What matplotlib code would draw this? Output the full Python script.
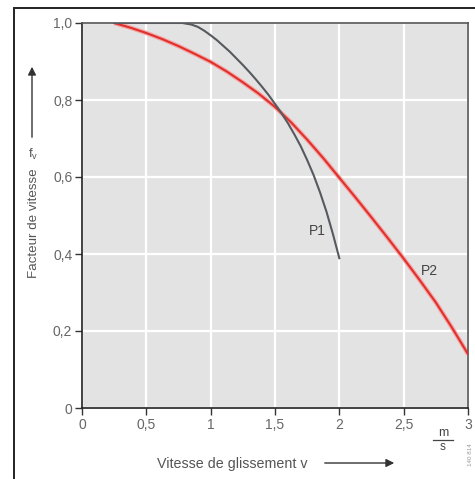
import matplotlib
matplotlib.use("Agg")
import matplotlib.pyplot as plt
from matplotlib.patches import Rectangle, FancyArrowPatch

plt.rcParams["font.family"] = ["Liberation Sans", "DejaVu Sans"]

# --- data ---
p1_v = [0.25, 0.5, 0.78, 0.85, 0.9, 0.95, 1.0, 1.05, 1.1, 1.15, 1.2, 1.25, 1.3, 1.35, 1.4,
        1.45, 1.5, 1.55, 1.6, 1.65, 1.7, 1.75, 1.8, 1.85, 1.9, 1.95, 2.0]
p1_f = [1.0, 1.0, 1.0, 0.996, 0.99, 0.98, 0.968, 0.955, 0.94, 0.925, 0.908, 0.891, 0.873,
        0.854, 0.834, 0.813, 0.79, 0.766, 0.74, 0.711, 0.68, 0.644, 0.605, 0.56, 0.51, 0.452, 0.389]
p2_v = [0.25, 0.375, 0.5, 0.625, 0.75, 0.875, 1.0, 1.125, 1.25, 1.375, 1.5, 1.625, 1.75,
        1.875, 2.0, 2.125, 2.25, 2.375, 2.5, 2.625, 2.75, 2.875, 3.0]
p2_f = [1.0, 0.988, 0.974, 0.958, 0.94, 0.92, 0.899, 0.874, 0.846, 0.816, 0.782, 0.742, 0.697,
        0.649, 0.598, 0.547, 0.495, 0.442, 0.388, 0.332, 0.274, 0.209, 0.14]

x_ticks = [0, 0.5, 1, 1.5, 2, 2.5, 3]
x_labels = ["0", "0,5", "1", "1,5", "2", "2,5", "3"]
y_ticks = [0, 0.2, 0.4, 0.6, 0.8, 1.0]
y_labels = ["0", "0,2", "0,4", "0,6", "0,8", "1,0"]

W, H = 475, 479
fig = plt.figure(figsize=(W / 100, H / 100), dpi=100)
fig.patch.set_facecolor("white")

# outer frame (runs off the right and bottom edges)
fig.patches.append(Rectangle((14 / W, -0.1), 1.2, 1.1 - 8 / H, transform=fig.transFigure,
                             fill=False, edgecolor="#222222", linewidth=1.4))

ax = fig.add_axes([82 / W, 1 - 408 / H, (468 - 82) / W, (408 - 23) / H])
ax.set_facecolor("#e3e3e3")
ax.set_xlim(0, 3)
ax.set_ylim(0, 1.0)
ax.set_xticks(x_ticks, x_labels)
ax.set_yticks(y_ticks, y_labels)
ax.grid(True, color="white", linewidth=1.6)
ax.set_axisbelow(True)
for side in ("left", "bottom"):
    ax.spines[side].set_color("#222222")
    ax.spines[side].set_linewidth(1.2)
for side in ("top", "right"):
    ax.spines[side].set_color("#555555")
    ax.spines[side].set_linewidth(1.2)
ax.tick_params(direction="out", length=5, width=1, color="#333333",
               labelsize=10, labelcolor="#666666", pad=2)

# curves (soft halo under the red line like the print)
ax.plot(p2_v, p2_f, color="#f4a5a5", linewidth=3.2, solid_capstyle="butt", zorder=2)
ax.plot(p2_v, p2_f, color="#e0302c", linewidth=1.5, zorder=3)
ax.plot(p1_v, p1_f, color="#565a5e", linewidth=1.5, zorder=4)

ax.text(1.83, 0.46, "P1", fontsize=10, color="#444444", ha="center", va="center")
ax.text(2.7, 0.355, "P2", fontsize=10, color="#444444", ha="center", va="center")

# y axis label with arrow
fig.text(34 / W, 1 - 223 / H, "Facteur de vitesse", rotation=90, fontsize=9.6,
         color="#555555", ha="center", va="center")
fig.text(33 / W, 1 - 154 / H, "f$_\\mathregular{v}$", fontsize=9.5, color="#555555",
         ha="center", va="center")
fig.patches.append(FancyArrowPatch((32 / W, 1 - 140 / H), (32 / W, 1 - 64 / H),
                                   transform=fig.transFigure, arrowstyle="-|>",
                                   mutation_scale=12, color="#333333", linewidth=1))

# x axis label with arrow and unit
fig.text(232 / W, 1 - 464 / H, "Vitesse de glissement v", fontsize=10.3,
         color="#555555", ha="center", va="center")
fig.patches.append(FancyArrowPatch((322 / W, 1 - 463 / H), (397 / W, 1 - 463 / H),
                                   transform=fig.transFigure, arrowstyle="-|>",
                                   mutation_scale=12, color="#333333", linewidth=1))
fig.text(443 / W, 1 - 433 / H, "m", fontsize=9, color="#444444", ha="center", va="center")
fig.lines.append(plt.Line2D([433 / W, 453 / W], [1 - 440 / H, 1 - 440 / H],
                            transform=fig.transFigure, color="#444444", linewidth=0.9))
fig.text(443 / W, 1 - 447 / H, "s", fontsize=8.5, color="#444444", ha="center", va="center")

fig.text(471 / W, 1 - 455 / H, "140 814", rotation=90, fontsize=4.5,
         color="#999999", ha="center", va="center")

fig.savefig("out.png", dpi=100)
